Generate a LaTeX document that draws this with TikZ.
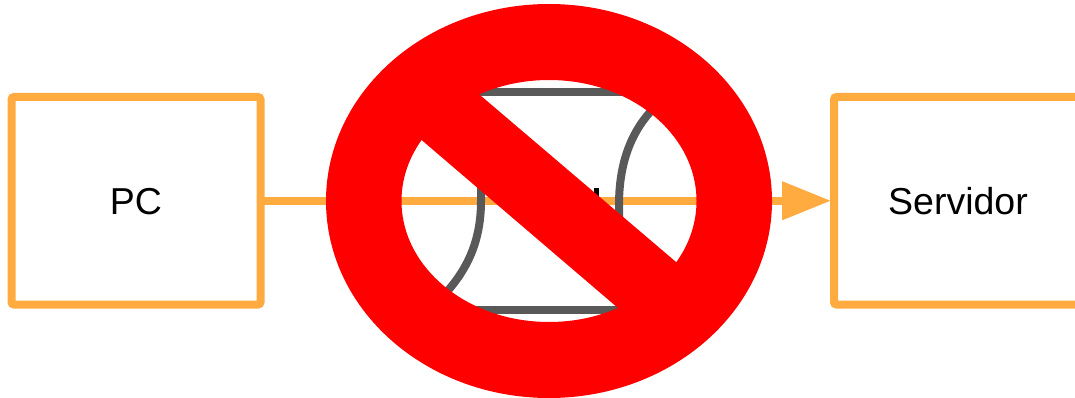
\documentclass[tikz,border=0pt]{standalone}
\usepackage{fontspec}
\setmainfont{Liberation Sans}
\usetikzlibrary{arrows.meta}
\definecolor{boxorange}{RGB}{255,171,64}
\definecolor{cloudgray}{RGB}{89,89,89}
\tikzset{
  boxnode/.style={draw=boxorange,line width=8pt,rounded corners=2.5pt,fill=white,inner sep=0pt,minimum height=207.5pt,text height=27pt,text depth=0pt,font=\fontsize{37.5}{42}\selectfont,text=black},
  link/.style={draw=boxorange,line width=7.6pt,-{Triangle[length=49pt,width=37pt,fill=boxorange]}},
  cloudline/.style={draw=cloudgray,line width=8pt},
}
\begin{document}
\begin{tikzpicture}[x=1pt,y=-1pt]
\useasboundingbox (0,0) rectangle (1075,398);
\clip (0,0) rectangle (1075,398);
\node[boxnode,minimum width=249pt] (pc) at (136,200.75) {PC};
\node[boxnode,minimum width=248pt] (srv) at (958,200.75) {Servidor};
\draw[link] ([xshift=-2pt]pc.east) -- ([xshift=1pt]srv.west);
% hidden middle element
\fill[black] (594,188) rectangle (598.5,198);
\draw[cloudline] (470,92.5) -- (640,92.5);
\draw[cloudline] (460,309.5) -- (630,309.5);
\draw[cloudline] (481,170) -- (481,201) .. controls (481,240) and (468,270) .. (442,297);
\draw[cloudline] (619,235) -- (619,205) .. controls (619,165) and (630,130) .. (658,104);
% prohibition sign
\fill[red,even odd rule] (549,201) ellipse [x radius=223, y radius=197]
                         (549,201) ellipse [x radius=147.5, y radius=121];
\fill[red] (460,78) -- (696,279) -- (636.7,324) -- (401.7,123) -- cycle;
\end{tikzpicture}
\end{document}
